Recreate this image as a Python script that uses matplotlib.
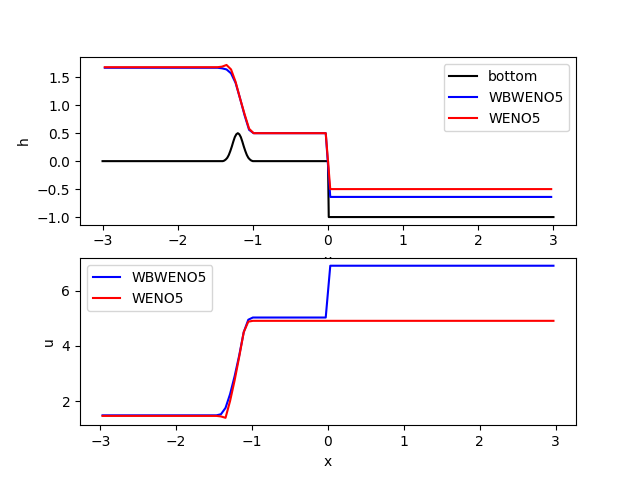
import matplotlib
matplotlib.use("Agg")
import matplotlib.pyplot as plt

# cell centres (h, u)
X_CELL = [-2.97, -1.47, -1.41, -1.35, -1.29, -1.23, -1.17, -1.11, -1.05, -0.99, -0.03, 0.03, 2.97]
H_WB = [1.67, 1.67, 1.66, 1.64, 1.57, 1.40, 1.12, 0.82, 0.56, 0.50, 0.50, -0.64, -0.64]
H_WE = [1.68, 1.68, 1.69, 1.72, 1.64, 1.42, 1.12, 0.84, 0.58, 0.50, 0.50, -0.50, -0.50]
U_WB = [1.48, 1.48, 1.52, 1.75, 2.25, 2.90, 3.65, 4.50, 4.95, 5.03, 5.03, 6.91, 6.91]
U_WE = [1.46, 1.46, 1.44, 1.39, 2.00, 2.75, 3.60, 4.50, 4.88, 4.91, 4.91, 4.91, 4.91]

# bottom topography
X_BOT = [-3.0, -1.40, -1.38, -1.36, -1.34, -1.32, -1.30, -1.28, -1.26, -1.24, -1.22, -1.20,
         -1.18, -1.16, -1.14, -1.12, -1.10, -1.08, -1.06, -1.04, -1.02, -1.00, 0.0, 0.01, 3.0]
BOT = [0.0, 0.0, 0.01, 0.03, 0.06, 0.11, 0.18, 0.26, 0.35, 0.43, 0.48, 0.50,
       0.48, 0.43, 0.35, 0.26, 0.18, 0.11, 0.06, 0.03, 0.01, 0.0, 0.0, -1.0, -1.0]

fig, (ax1, ax2) = plt.subplots(2, 1, figsize=(6.4, 4.78), dpi=100)

ax1.plot(X_BOT, BOT, color="k", label="bottom")
ax1.plot(X_CELL, H_WB, color="b", label="WBWENO5")
ax1.plot(X_CELL, H_WE, color="r", label="WENO5")
ax1.set_xlabel("x")
ax1.set_ylabel("h")
ax1.legend(loc="upper right")

ax2.plot(X_CELL, U_WB, color="b", label="WBWENO5")
ax2.plot(X_CELL, U_WE, color="r", label="WENO5")
ax2.set_xlabel("x")
ax2.set_ylabel("u")
ax2.legend(loc="upper left")

fig.savefig("out.png", dpi=100)
